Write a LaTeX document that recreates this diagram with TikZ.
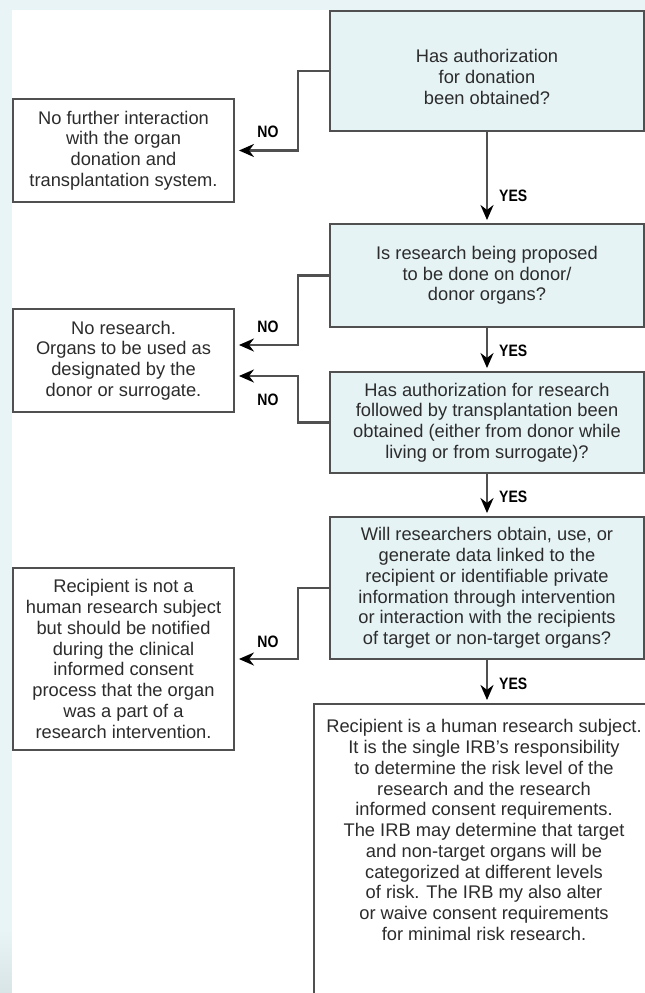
\documentclass[tikz,border=0pt]{standalone}
\usepackage{fontspec}
\usepackage{graphicx}
\setmainfont{Liberation Sans}
\usetikzlibrary{arrows.meta}
\definecolor{bgcyan}{HTML}{E8F4F6}
\definecolor{bgbottom}{HTML}{D8E4E6}
\definecolor{boxfill}{HTML}{E6F3F5}
\definecolor{edge}{HTML}{505050}
\definecolor{txt}{HTML}{2C2C2C}
\tikzset{
  box/.style={draw=edge, line width=1.9pt, inner sep=0pt, align=center,
    font=\fontsize{18.3}{20.75}\selectfont, text=txt},
  plaintext/.style={inner sep=0pt, align=center,
    font=\fontsize{18.3}{20.75}\selectfont, text=txt},
  qbox/.style={box, fill=boxfill, minimum width=314pt},
  abox/.style={box, fill=white, minimum width=221pt},
  conn/.style={draw=edge, line width=2.3pt,
    -{Stealth[length=15pt,width=13pt,color=black]}, shorten >=4pt},
  lab/.style={font=\bfseries\fontsize{16.5}{18}\selectfont, text=black, inner sep=0pt},
}
\begin{document}
\begin{tikzpicture}[x=1pt,y=-1pt]
% canvas
\clip (0,0) rectangle (645,993);
\fill[bgcyan] (0,0) rectangle (645,993);
\shade[top color=bgcyan, bottom color=bgbottom] (0,930) rectangle (12,993);
\fill[white] (12,10) rectangle (645,993);

% question boxes (right column)
\node[qbox, minimum height=120pt] (q1) at (487,71) {};
\node[plaintext] (q1t) at (487,77) {Has authorization\\for donation\\been obtained?};
\node[qbox, minimum height=103pt] (q2) at (487,275.5)
  {Is research being proposed\\to be done on donor/\\donor organs?};
\node[qbox, minimum height=101pt] (q3) at (487,422.5)
  {Has authorization for research\\followed by transplantation been\\obtained (either from donor while\\living or from surrogate)?};
\node[qbox, minimum height=142pt] (q4) at (487,588)
  {Will researchers obtain, use, or\\generate data linked to the\\recipient or identifiable private\\information through intervention\\or interaction with the recipients\\of target or non-target organs?};

% final outcome box (cut off by the image edge)
\node[box, fill=white, minimum width=340pt, minimum height=330pt, anchor=north west] (r5) at (313,703) {};
\node[plaintext] (r5t) at (484,830)
  {Recipient is a human research subject.\\It is the single IRB's responsibility\\to determine the risk level of the\\research and the research\\informed consent requirements.\\The IRB may determine that target\\and non-target organs will be\\categorized at different levels\\of risk. The IRB my also alter\\or waive consent requirements\\for minimal risk research.};

% answer boxes (left column)
\node[abox, minimum height=103pt] (l1) at (123.5,150.5)
  {No further interaction\\with the organ\\donation and\\transplantation system.};
\node[abox, minimum height=103pt] (l2) at (123.5,360.5)
  {No research.\\Organs to be used as\\designated by the\\donor or surrogate.};
\node[abox, minimum height=182pt] (l3) at (123.5,659)
  {Recipient is not a\\human research subject\\but should be notified\\during the clinical\\informed consent\\process that the organ\\was a part of a\\research intervention.};

% NO connectors
\draw[conn] (q1.west) -- ++(-31,0) |- (l1.east);
\draw[conn] (q2.west) -- ++(-31,0) |- ([yshift=15.5pt]l2.east);
\draw[conn] (q3.west) -- ++(-31,0) |- ([yshift=-15.5pt]l2.east);
\draw[conn] (q4.west) -- ++(-31,0) |- (l3.east);
\node[lab] (n1) at (268,132) {\scalebox{0.85}[1]{NO}};
\node[lab] (n2) at (268,327) {\scalebox{0.85}[1]{NO}};
\node[lab] (n3) at (268,400) {\scalebox{0.85}[1]{NO}};
\node[lab] (n4) at (268,642) {\scalebox{0.85}[1]{NO}};

% YES connectors
\draw[conn, shorten >=3pt] (q1.south) -- (q2.north)
  node[lab, pos=0.7, anchor=west, xshift=11pt] (y1) {\scalebox{0.85}[1]{YES}};
\draw[conn, shorten >=3pt] (q2.south) -- (q3.north)
  node[lab, pos=0.52, anchor=west, xshift=11pt] (y2) {\scalebox{0.85}[1]{YES}};
\draw[conn, shorten >=3pt] (q3.south) -- (q4.north)
  node[lab, pos=0.55, anchor=west, xshift=11pt] (y3) {\scalebox{0.85}[1]{YES}};
\draw[conn, shorten >=3pt] (q4.south) -- (q4.south |- r5.north)
  node[lab, pos=0.55, anchor=west, xshift=11pt] (y4) {\scalebox{0.85}[1]{YES}};
\end{tikzpicture}
\end{document}
